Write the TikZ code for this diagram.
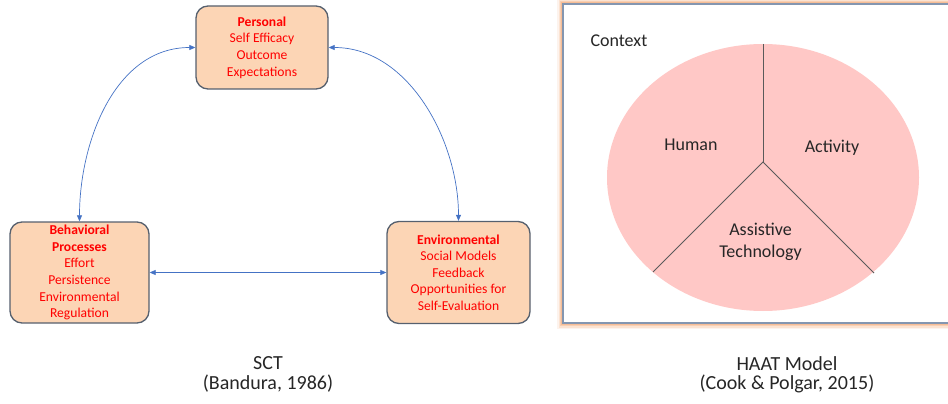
\documentclass[tikz,border=0pt]{standalone}
\usepackage{fontspec}
\setmainfont{Carlito}
\usetikzlibrary{arrows.meta}
\definecolor{boxfill}{HTML}{FCD5B5}
\definecolor{boxline}{HTML}{56606E}
\definecolor{linkblue}{HTML}{4472C4}
\definecolor{petal}{HTML}{FFC8C6}
\definecolor{divider}{HTML}{5A5A5A}
\definecolor{framegray}{HTML}{8496B0}
\definecolor{glow}{HTML}{F4B183}
\definecolor{ink}{HTML}{262626}
\begin{document}
\begin{tikzpicture}[x=1pt,y=-1pt,
  factor/.style={draw=boxline, line width=1.3pt, fill=boxfill, rounded corners=12pt,
    text=red, align=center, inner sep=0pt,
    font=\fontsize{13.6}{16.6}\selectfont},
  link/.style={draw=linkblue, line width=0.7pt,
    {Triangle[length=6pt,width=5pt]}-{Triangle[length=6pt,width=5pt]}},
  partname/.style={font=\fontsize{18}{22}\selectfont, text=ink, anchor=base},
  caption/.style={font=\fontsize{20}{22}\selectfont, text=ink, anchor=base}]
\useasboundingbox (0,0) rectangle (948,404);

% ---------------- SCT triad ----------------
\node[factor, minimum width=132pt, minimum height=83pt] (personal) at (262,47.5)
  {\textbf{Personal}\\Self Efficacy\\Outcome\\Expectations};
\node[factor, minimum width=139pt, minimum height=101pt] (behav) at (79.5,272.5)
  {\textbf{Behavioral}\\\textbf{Processes}\\Effort\\Persistence\\Environmental\\Regulation};
\node[factor, minimum width=143pt, minimum height=102pt] (env) at (458.5,272.5)
  {\textbf{Environmental}\\Social Models\\Feedback\\Opportunities for\\Self-Evaluation};

\draw[link] (personal.west) .. controls +(-80,0) and +(0,-80) .. (behav.north);
\draw[link] (personal.east) .. controls +(80,0) and +(0,-80) .. (env.north);
\draw[link] (behav.east) -- (env.west);

\node[caption] (sct) at (268,369.3) {SCT};
\node[caption] (sctref) at (268,389.3) {(Bandura, 1986)};

% ---------------- HAAT model ----------------
% soft orange glow round the context frame
\foreach \w/\o in {12/0.15, 9/0.25, 6/0.4, 3.5/0.6}
  \draw[glow, line width=\w pt, opacity=\o] (563,4) rectangle (962,323);
\fill[white] (563,4) rectangle (962,323);
\draw[framegray, line width=1.3pt] (563,4) rectangle (962,323);

\fill[petal] (763,177.5) ellipse [x radius=156, y radius=133.5];
\coordinate (hub) at (763,162);
\coordinate (top) at (763,44);
\coordinate (lowleft) at (653,272);
\coordinate (lowright) at (874,273);
\draw[divider, line width=0.8pt] (top) -- (hub);
\draw[divider, line width=0.8pt] (lowleft) -- (hub) -- (lowright);

\node[partname, anchor=base west] (context) at (587,46.5) {Context};
\node[partname] (human) at (691,150) {Human};
\node[partname] (activity) at (832,152) {Activity};
\node[partname] (assist1) at (760.5,235.5) {Assistive};
\node[partname] (assist2) at (760.5,257) {Technology};

\node[caption] (haat) at (787,370) {HAAT Model};
\node[caption] (haatref) at (787,389.3) {(Cook \& Polgar, 2015)};
\end{tikzpicture}
\end{document}
